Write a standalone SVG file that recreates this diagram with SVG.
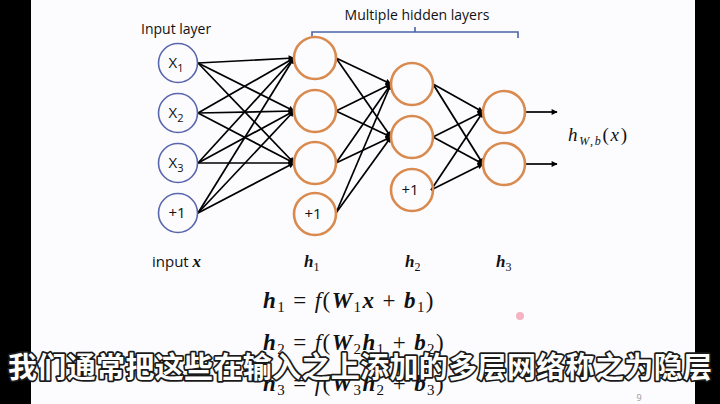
<svg xmlns="http://www.w3.org/2000/svg" width="720" height="404" viewBox="0 0 720 404">
<defs>
<style>
.in{fill:none;stroke:#5866ad;stroke-width:1.6}
.hid{fill:none;stroke:#d98a4e;stroke-width:2.6}
.lbl{font-family:"Open Sans","Liberation Sans",sans-serif;font-size:14px;fill:#111}
.node{font-family:"Open Sans","Liberation Sans",sans-serif;font-size:15px;fill:#111;text-anchor:middle}
.math{font-family:"Liberation Serif","DejaVu Serif",serif;fill:#111}
.bi{font-weight:bold;font-style:italic}
.edge{stroke:#000;stroke-width:1.7;fill:none;marker-end:url(#ah)}
.sub{font-family:"Noto Sans CJK SC","Noto Sans CJK JP",sans-serif;font-weight:bold;font-size:29px;fill:#fff;stroke:#1a1a1a;stroke-width:3.5;paint-order:stroke;stroke-linejoin:round}
</style>
<marker id="ah" viewBox="0 0 10 10" refX="9" refY="5" markerWidth="7" markerHeight="6" markerUnits="userSpaceOnUse" orient="auto">
<path d="M0,0 L10,5 L0,10 z" fill="#000"/>
</marker>
</defs>
<rect x="0" y="0" width="720" height="404" fill="#000"/>
<rect x="31" y="0" width="664" height="404" fill="#fcfbfe"/>

<g id="labels">
<text class="lbl" x="141" y="34">Input layer</text>
<text class="lbl" x="417" y="20" text-anchor="middle">Multiple hidden layers</text>
<path d="M312,38 V32 H518 V38 M415,32 V27" fill="none" stroke="#4a64a8" stroke-width="1.6"/>
<text class="lbl" x="152" y="267" style="font-size:15px">input <tspan class="math bi" style="font-size:17px">x</tspan></text>
<text class="math bi" x="304" y="267" font-size="17">h<tspan font-size="12" dy="4" font-weight="normal" font-style="normal">1</tspan></text>
<text class="math bi" x="405" y="267" font-size="17">h<tspan font-size="12" dy="4" font-weight="normal" font-style="normal">2</tspan></text>
<text class="math bi" x="496" y="267" font-size="17">h<tspan font-size="12" dy="4" font-weight="normal" font-style="normal">3</tspan></text>
<text class="math" x="568" y="141" font-size="19" font-style="italic" textLength="59" lengthAdjust="spacing">h<tspan font-size="12" dy="4">W,b</tspan><tspan dy="-4" font-style="normal">(</tspan>x<tspan font-style="normal">)</tspan></text>
</g>

<g id="connectors">
<line class="edge" x1="198" y1="63" x2="294" y2="58"/>
<line class="edge" x1="198" y1="63" x2="294" y2="111"/>
<line class="edge" x1="198" y1="63" x2="294" y2="163"/>
<line class="edge" x1="198" y1="113" x2="294" y2="58"/>
<line class="edge" x1="198" y1="113" x2="294" y2="111"/>
<line class="edge" x1="198" y1="113" x2="294" y2="163"/>
<line class="edge" x1="198" y1="163" x2="294" y2="58"/>
<line class="edge" x1="198" y1="163" x2="294" y2="111"/>
<line class="edge" x1="198" y1="163" x2="294" y2="163"/>
<line class="edge" x1="198" y1="213" x2="294" y2="58"/>
<line class="edge" x1="198" y1="213" x2="294" y2="111"/>
<line class="edge" x1="198" y1="213" x2="294" y2="163"/>
<line class="edge" x1="336" y1="58" x2="391" y2="84"/>
<line class="edge" x1="336" y1="58" x2="391" y2="137"/>
<line class="edge" x1="336" y1="111" x2="391" y2="84"/>
<line class="edge" x1="336" y1="111" x2="391" y2="137"/>
<line class="edge" x1="336" y1="163" x2="391" y2="84"/>
<line class="edge" x1="336" y1="163" x2="391" y2="137"/>
<line class="edge" x1="336" y1="213" x2="391" y2="84"/>
<line class="edge" x1="336" y1="213" x2="391" y2="137"/>
<line class="edge" x1="433" y1="84" x2="483" y2="112"/>
<line class="edge" x1="433" y1="84" x2="483" y2="164"/>
<line class="edge" x1="433" y1="137" x2="483" y2="112"/>
<line class="edge" x1="433" y1="137" x2="483" y2="164"/>
<line class="edge" x1="431" y1="190" x2="483" y2="112"/>
<line class="edge" x1="431" y1="190" x2="483" y2="164"/>
<line class="edge" x1="525" y1="112" x2="557" y2="112"/>
<line class="edge" x1="525" y1="164" x2="557" y2="164"/>
</g>

<g id="x1"><circle class="in" cx="178" cy="63" r="19.5"/><text class="node" x="176" y="68">X<tspan font-size="11" dy="4">1</tspan></text></g>
<g id="x2"><circle class="in" cx="178" cy="113" r="19.5"/><text class="node" x="176" y="118">X<tspan font-size="11" dy="4">2</tspan></text></g>
<g id="x3"><circle class="in" cx="178" cy="163" r="19.5"/><text class="node" x="176" y="168">X<tspan font-size="11" dy="4">3</tspan></text></g>
<g id="xb"><circle class="in" cx="178" cy="213" r="19.5"/><text class="node" x="177" y="218" font-size="14">+1</text></g>

<g id="h1a"><circle class="hid" cx="315" cy="58" r="21"/></g>
<g id="h1b"><circle class="hid" cx="315" cy="111" r="21"/></g>
<g id="h1c"><circle class="hid" cx="315" cy="163" r="21"/></g>
<g id="h1d"><circle class="hid" cx="315" cy="214" r="21"/><text class="node" x="313" y="219" font-size="14">+1</text></g>

<g id="h2a"><circle class="hid" cx="412" cy="84" r="21"/></g>
<g id="h2b"><circle class="hid" cx="412" cy="137" r="21"/></g>
<g id="h2c"><circle class="hid" cx="412" cy="190" r="21"/><text class="node" x="410" y="195" font-size="14">+1</text></g>

<g id="h3a"><circle class="hid" cx="504" cy="112" r="21"/></g>
<g id="h3b"><circle class="hid" cx="504" cy="164" r="21"/></g>

<g id="formulas" class="math" font-size="23" letter-spacing="1.4">
<text x="263" y="308"><tspan class="bi">h</tspan><tspan font-size="15" dy="4">1</tspan><tspan dy="-4"> = </tspan><tspan font-style="italic">f</tspan>(<tspan class="bi">W</tspan><tspan font-size="15" dy="4">1</tspan><tspan class="bi" dy="-4">x</tspan> + <tspan class="bi">b</tspan><tspan font-size="15" dy="4">1</tspan><tspan dy="-4">)</tspan></text>
<text x="263" y="350"><tspan class="bi">h</tspan><tspan font-size="15" dy="4">2</tspan><tspan dy="-4"> = </tspan><tspan font-style="italic">f</tspan>(<tspan class="bi">W</tspan><tspan font-size="15" dy="4">2</tspan><tspan class="bi" dy="-4">h</tspan><tspan font-size="15" dy="4">1</tspan><tspan dy="-4"> + </tspan><tspan class="bi">b</tspan><tspan font-size="15" dy="4">2</tspan><tspan dy="-4">)</tspan></text>
<text x="263" y="391"><tspan class="bi">h</tspan><tspan font-size="15" dy="4">3</tspan><tspan dy="-4"> = </tspan><tspan font-style="italic">f</tspan>(<tspan class="bi">W</tspan><tspan font-size="15" dy="4">3</tspan><tspan class="bi" dy="-4">h</tspan><tspan font-size="15" dy="4">2</tspan><tspan dy="-4"> + </tspan><tspan class="bi">b</tspan><tspan font-size="15" dy="4">3</tspan><tspan dy="-4">)</tspan></text>
</g>

<circle cx="520" cy="316" r="4" fill="#f2a0b0" opacity="0.8"/>
<text x="639" y="401" text-anchor="middle" font-family="Open Sans,sans-serif" font-size="9" fill="#999">9</text>

<text class="sub" x="8" y="378" textLength="704" lengthAdjust="spacing">我们通常把这些在输入之上添加的多层网络称之为隐层</text>
</svg>
